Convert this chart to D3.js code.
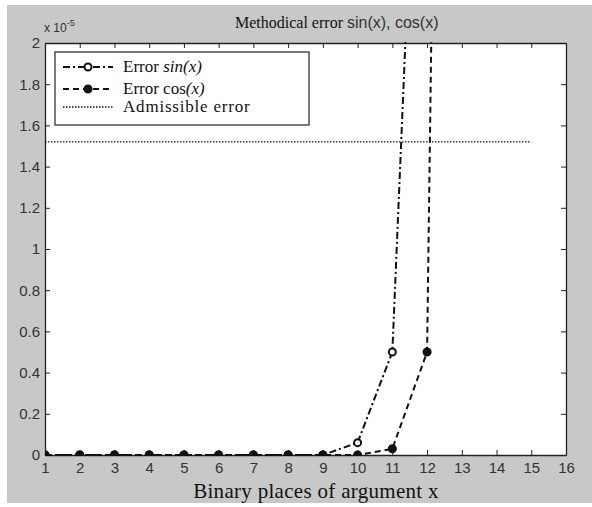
<!DOCTYPE html>
<meta charset="utf-8">
<script src="https://d3js.org/d3.v7.min.js"></script>
<style>
  body { margin: 0; background: #fff; }
</style>
<div id="chart"></div>
<script>

    // data, values in units of 1e-5
    var places = [1, 2, 3, 4, 5, 6, 7, 8, 9, 10, 11, 12, 13];
    var sinErr = [0, 0, 0, 0, 0, 0, 0, 0, 0, 0.06, 0.5, 4.5];
    var cosErr = [0, 0, 0, 0, 0, 0, 0, 0, 0, 0, 0.03, 0.5, 13];
    var admissible = 1.52;
    var admissibleRange = [1, 15];
    var xTicks = [1, 2, 3, 4, 5, 6, 7, 8, 9, 10, 11, 12, 13, 14, 15, 16];
    var yTicks = [0, 0.2, 0.4, 0.6, 0.8, 1, 1.2, 1.4, 1.6, 1.8, 2];

    var W = 592, H = 507;
    var box = {left: 45, top: 43, right: 566, bottom: 455};

    var svg = d3.select("#chart")
        .append("svg")
            .attr("width", W)
            .attr("height", H)

    // gray figure background
    svg.append("rect")
        .attr("x", 7).attr("y", 5)
        .attr("width", W - 7).attr("height", 498)
        .attr("fill", "#c8c8c8")

    var x = d3.scaleLinear().domain([1, 16]).range([box.left, box.right]);
    var y = d3.scaleLinear().domain([0, 2]).range([box.bottom, box.top]);

    // white plot area
    svg.append("rect")
        .attr("x", box.left).attr("y", box.top)
        .attr("width", box.right - box.left).attr("height", box.bottom - box.top)
        .attr("fill", "#fff")

    svg.append("clipPath").attr("id", "clip")
        .append("rect")
        .attr("x", box.left).attr("y", box.top - 1)
        .attr("width", box.right - box.left).attr("height", box.bottom - box.top + 2)

    // axes with inward ticks
    var fmt = function (d) { return d3.format("")(d); };
    var gx = svg.append("g")
        .attr("transform", "translate(0," + box.bottom + ")")
        .call(d3.axisBottom(x).tickValues(xTicks).tickSizeInner(-5).tickSizeOuter(0).tickPadding(7).tickFormat(fmt))
    var gxTop = svg.append("g")
        .attr("transform", "translate(0," + box.top + ")")
        .call(d3.axisTop(x).tickValues(xTicks).tickSizeInner(-5).tickSizeOuter(0).tickFormat(""))
    var gy = svg.append("g")
        .attr("transform", "translate(" + box.left + ",0)")
        .call(d3.axisLeft(y).tickValues(yTicks).tickSizeInner(-5).tickSizeOuter(0).tickPadding(5).tickFormat(fmt))
    var gyRight = svg.append("g")
        .attr("transform", "translate(" + box.right + ",0)")
        .call(d3.axisRight(y).tickValues(yTicks).tickSizeInner(-5).tickSizeOuter(0).tickFormat(""))

    svg.selectAll(".domain").attr("stroke", "#222").attr("stroke-width", 1.3)
    svg.selectAll(".tick line").attr("stroke", "#222")
    svg.selectAll(".tick text")
        .attr("font-family", "Liberation Sans, Arial, sans-serif")
        .attr("font-size", 15)
        .attr("fill", "#333")

    // exponent label
    var expo = svg.append("text")
        .attr("x", 44).attr("y", 32)
        .attr("font-family", "Liberation Sans, Arial, sans-serif")
        .attr("font-size", 12)
        .attr("fill", "#333")
    expo.append("tspan").text("x 10")
    expo.append("tspan").attr("dy", -6).attr("font-size", 9).text("-5")

    // title
    var title = svg.append("text")
        .attr("x", 235).attr("y", 28)
        .attr("fill", "#111")
    title.append("tspan")
        .attr("font-family", "Liberation Serif, Times New Roman, serif")
        .attr("font-size", 16)
        .text("Methodical error ")
    title.append("tspan")
        .attr("font-family", "Liberation Sans, Arial, sans-serif")
        .attr("font-size", 16)
        .attr("fill", "#333")
        .text(" sin(x), cos(x)")

    // x label
    svg.append("text")
        .attr("x", 316).attr("y", 498)
        .attr("text-anchor", "middle")
        .attr("font-family", "Liberation Serif, Times New Roman, serif")
        .attr("font-size", 21)
        .attr("letter-spacing", 0.3)
        .attr("fill", "#111")
        .text("Binary places of argument x")

    var plot = svg.append("g").attr("clip-path", "url(#clip)")

    var line = d3.line()
        .x(function (d) { return x(d[0]); })
        .y(function (d) { return y(d[1]); })

    var sinData = sinErr.map(function (v, i) { return [places[i], v]; });
    var cosData = cosErr.map(function (v, i) { return [places[i], v]; });

    // admissible error
    plot.append("line")
        .attr("x1", x(admissibleRange[0])).attr("x2", x(admissibleRange[1]))
        .attr("y1", y(admissible)).attr("y2", y(admissible))
        .attr("stroke", "#111")
        .attr("stroke-width", 1.3)
        .attr("stroke-dasharray", "1.5,1.5")

    plot.append("path")
        .datum(sinData)
        .attr("d", line)
        .attr("fill", "none")
        .attr("stroke", "#111")
        .attr("stroke-width", 2)
        .attr("stroke-dasharray", "7,3,2,3")

    plot.append("path")
        .datum(cosData)
        .attr("d", line)
        .attr("fill", "none")
        .attr("stroke", "#111")
        .attr("stroke-width", 2)
        .attr("stroke-dasharray", "6,4")

    plot.selectAll("circle.sin")
        .data(sinData)
        .enter().append("circle")
        .attr("class", "sin")
        .attr("cx", function (d) { return x(d[0]); })
        .attr("cy", function (d) { return y(d[1]); })
        .attr("r", 3.5)
        .attr("fill", "#fff")
        .attr("stroke", "#111")
        .attr("stroke-width", 2)

    plot.selectAll("circle.cos")
        .data(cosData)
        .enter().append("circle")
        .attr("class", "cos")
        .attr("cx", function (d) { return x(d[0]); })
        .attr("cy", function (d) { return y(d[1]); })
        .attr("r", 3.8)
        .attr("fill", "#111")
        .attr("stroke", "#111")
        .attr("stroke-width", 1.5)

    // legend
    var lg = svg.append("g")
    lg.append("rect")
        .attr("x", 55).attr("y", 52)
        .attr("width", 254).attr("height", 73)
        .attr("fill", "#fff")
        .attr("stroke", "#333")
        .attr("stroke-width", 1.3)

    var items = [
        {dash: "7,3,2,3", w: 2, marker: "#fff", ls: 0, parts: [["Error ", "normal"], ["sin(x)", "italic"]]},
        {dash: "6,4", w: 2, marker: "#111", ls: 0, parts: [["Error cos", "normal"], ["(x)", "italic"]]},
        {dash: "1.5,1.5", w: 1.3, marker: null, ls: 0.8, parts: [["Admissible error", "normal"]]}
    ];
    var rowY = [67, 89, 107];
    items.forEach(function (it, i) {
        var yy = rowY[i];
        lg.append("line")
            .attr("x1", 63).attr("x2", 113)
            .attr("y1", yy).attr("y2", yy)
            .attr("stroke", "#111")
            .attr("stroke-width", it.w)
            .attr("stroke-dasharray", it.dash)
        if (it.marker) {
            lg.append("circle")
                .attr("cx", 88).attr("cy", yy).attr("r", 3.5)
                .attr("fill", it.marker)
                .attr("stroke", "#111").attr("stroke-width", 2)
        }
        var t = lg.append("text")
            .attr("x", 123).attr("y", yy + 5)
            .attr("font-family", "Liberation Serif, Times New Roman, serif")
            .attr("font-size", 17)
            .attr("letter-spacing", it.ls)
            .attr("fill", "#111")
        it.parts.forEach(function (p) {
            t.append("tspan").attr("font-style", p[1]).text(p[0])
        })
    })

</script>
